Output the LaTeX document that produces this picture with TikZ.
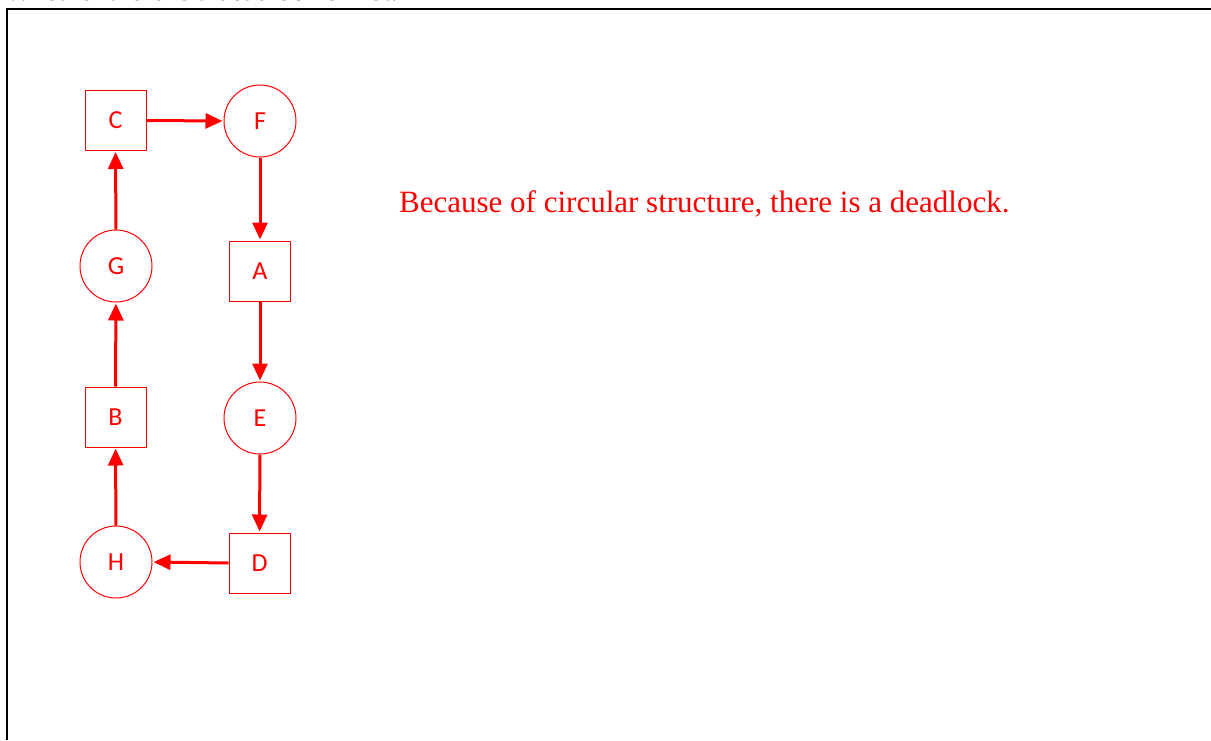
\documentclass[tikz,border=0pt]{standalone}
\usepackage{fontspec}
\setmainfont{Liberation Serif}
\newfontfamily\labelfont{Carlito}
\usetikzlibrary{arrows.meta}
\definecolor{pured}{RGB}{255,0,0}
\tikzset{
  sq/.style={draw=pured, line width=1pt, minimum width=61pt, minimum height=60pt, inner sep=0pt, text=pured, font=\labelfont\fontsize{26}{30}\selectfont},
  circ/.style={circle, draw=pured, line width=1pt, minimum size=72pt, inner sep=0pt, text=pured, font=\labelfont\fontsize{26}{30}\selectfont},
  arr/.style={draw=pured, line width=3pt, -{Triangle[length=17pt,width=15pt]}, shorten >=1pt},
}
\begin{document}
\begin{tikzpicture}[x=1pt,y=-1pt]
\useasboundingbox (0,0) rectangle (1211,740);
\fill[white] (0,0) rectangle (1211,740);
\node[anchor=base west, inner sep=0pt, font=\fontsize{28}{32}\selectfont] (title) at (5,0.8) {Whether there is a deadlock or not.};
\draw[line width=2pt] (7,740) -- (7,9) -- (1215,9);
\node[sq] (C) at (115.5,120.5) {C};
\node[circ] (F) at (260,121) {F};
\node[circ] (G) at (116,266) {G};
\node[sq] (A) at (260,271) {A};
\node[sq] (B) at (115.5,417) {B};
\node[circ] (E) at (260,418) {E};
\node[circ] (H) at (116,562) {H};
\node[sq] (D) at (259.5,563) {D};
\draw[arr] (C.east) -- (F.west);
\draw[arr] (F) -- (A);
\draw[arr] (A) -- (E);
\draw[arr] (E) -- (D);
\draw[arr] (D.west) -- (H.east);
\draw[arr] (H) -- (B);
\draw[arr] (B) -- (G);
\draw[arr] (G) -- (C);
\node[anchor=base west, inner sep=0pt, text=pured, font=\fontsize{31}{36}\selectfont] (msg) at (399,212) {Because of circular structure, there is a deadlock.};
\end{tikzpicture}
\end{document}
